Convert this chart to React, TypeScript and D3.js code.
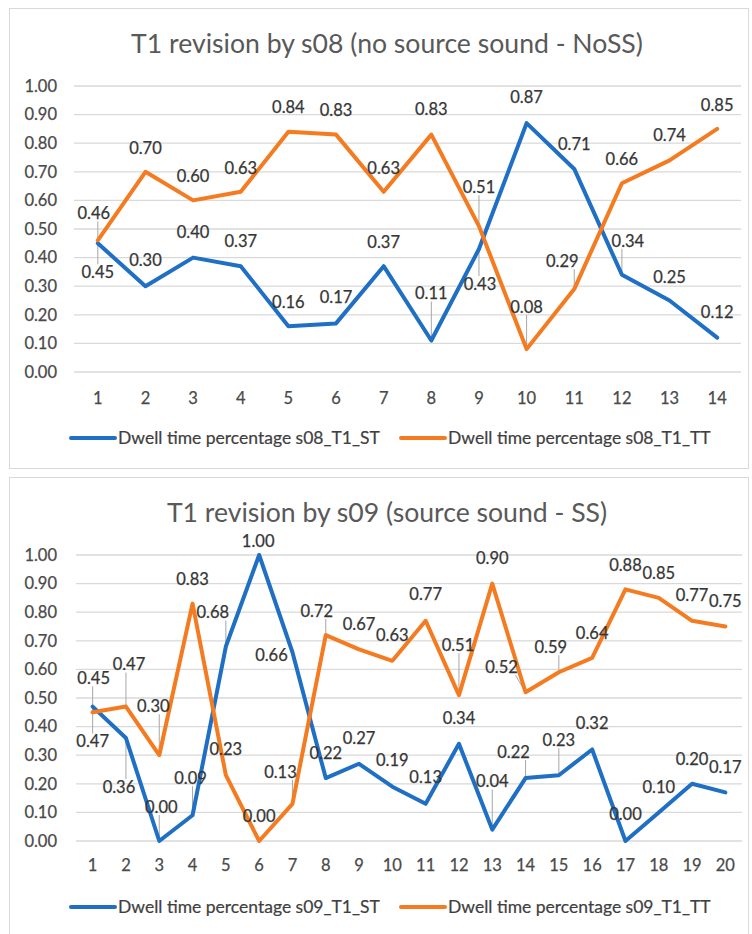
import React from "react";
import * as d3 from "d3";

// ---- data: chart 1 (s08, no source sound) ----
const s08Sessions = ["1", "2", "3", "4", "5", "6", "7", "8", "9", "10", "11", "12", "13", "14"];
const s08ST = [0.45, 0.30, 0.40, 0.37, 0.16, 0.17, 0.37, 0.11, 0.43, 0.87, 0.71, 0.34, 0.25, 0.12];
const s08TT = [0.46, 0.70, 0.60, 0.63, 0.84, 0.83, 0.63, 0.83, 0.51, 0.08, 0.29, 0.66, 0.74, 0.85];

// ---- data: chart 2 (s09, source sound) ----
const s09Sessions = ["1", "2", "3", "4", "5", "6", "7", "8", "9", "10", "11", "12", "13", "14", "15", "16", "17", "18", "19", "20"];
const s09ST = [0.47, 0.36, 0.00, 0.09, 0.68, 1.00, 0.66, 0.22, 0.27, 0.19, 0.13, 0.34, 0.04, 0.22, 0.23, 0.32, 0.00, 0.10, 0.20, 0.17];
const s09TT = [0.45, 0.47, 0.30, 0.83, 0.23, 0.00, 0.13, 0.72, 0.67, 0.63, 0.77, 0.51, 0.90, 0.52, 0.59, 0.64, 0.88, 0.85, 0.77, 0.75];

const yTicks = [0, 0.1, 0.2, 0.3, 0.4, 0.5, 0.6, 0.7, 0.8, 0.9, 1.0];

// ---- data-label placement (offset of label centre from its point, px; leader flag) ----
type LabelPos = [number, number, boolean?];
const A: LabelPos = [0, -24];
const s08STLabels: LabelPos[] = [
  [0, 29, true], [0, -26], [0, -25], [0, -25], [0, -24], [0, -26], [0, -24],
  [0, -47, true], [1, 35, true], [0, -26], [0, -25], [6, -34, true], [0, -23], [0, -25],
];
const s08TTLabels: LabelPos[] = [
  [-4, -27, true], A, A, A, [0, -25], A, A,
  [0, -25], [0, -39, true], [0, -42, true], [-12, -28, true], A, [0, -25], A,
];
const s09STLabels: LabelPos[] = [
  [0, 35, true], [-7, 49, true], [2, -34, true], [-2, -37, true], [-13, -34, true], [-1, -14], [-21, 3],
  [0, -25], [0, -26], [0, -26], [0, -27], [0, -26], [0, -48, true], [-12, -26, true],
  [0, -35, true], [0, -26], [0, -27], [0, -25], [0, -25], [0, -25],
];
const s09TTLabels: LabelPos[] = [
  [1, -34, true], [3, -42, true], [-6, -49, true], A, [0, -26], [0, -25], [-12, -32, true],
  [-9, -24, true], [0, -25], [0, -26], [0, -27], [-1, -50, true], [0, -25], [-24, -25, true],
  [-8, -25, true], [0, -25], A, [0, -25], [0, -26], [0, -25],
];

const BLUE = "#1f6fc4";
const ORANGE = "#f47b20";
const FONT = "Lato, 'Open Sans', sans-serif";

type Series = { name: string; values: number[]; color: string; labels: LabelPos[] };

type PanelProps = {
  box: { x: number; y: number; w: number; h: number };
  title: string;
  plot: { x0: number; x1: number; yTop: number; yBottom: number };
  xLabelY: number;
  legendY: number;
  categories: string[];
  series: Series[];
};

function Panel({ box, title, plot, xLabelY, legendY, categories, series }: PanelProps) {
  const x = d3.scalePoint<string>().domain(categories).range([plot.x0, plot.x1]).padding(0.5);
  const y = d3.scaleLinear().domain([0, 1]).range([plot.yBottom, plot.yTop]);
  const fmt = d3.format(".2f");
  const line = d3
    .line<number>()
    .x((_, i) => x(categories[i]) as number)
    .y((d) => y(d));

  const legendX = [71, 401];
  return (
    <g>
      <rect x={box.x + 0.5} y={box.y + 0.5} width={box.w} height={box.h} fill="#fff" stroke="#d9d9d9" strokeWidth={1} />
      <text x={387} y={box.y + 45} textAnchor="middle" fontFamily={FONT} fontSize={26.6} fill="#595959">
        {title}
      </text>
      {yTicks.map((t) => (
        <g key={t}>
          <line x1={plot.x0} x2={plot.x1} y1={y(t)} y2={y(t)} stroke="#d9d9d9" strokeWidth={1.3} />
          <text x={57} y={y(t)} dy="0.35em" textAnchor="end" fontFamily={FONT} fontSize={16.5} fill="#4a4a4a" stroke="#4a4a4a" strokeWidth={0.25}>
            {fmt(t)}
          </text>
        </g>
      ))}
      {categories.map((c) => (
        <text key={c} x={x(c)} y={xLabelY} dy="0.35em" textAnchor="middle" fontFamily={FONT} fontSize={16.5} fill="#4a4a4a" stroke="#4a4a4a" strokeWidth={0.25}>
          {c}
        </text>
      ))}
      {/* leader lines from moved labels to their points */}
      {series.map((s) =>
        s.values.map((v, i) => {
          const [dx, dy, leader] = s.labels[i];
          if (!leader) return null;
          const px = x(categories[i]) as number;
          const py = y(v);
          const cx = px + dx;
          const cy = py + dy;
          const ex = Math.max(cx - 14, Math.min(cx + 14, px));
          const ey = Math.max(cy - 8, Math.min(cy + 8, py));
          return <line key={s.name + i} x1={ex} y1={ey} x2={px} y2={py} stroke="#a6a6a6" strokeWidth={1} />;
        })
      )}
      {series.map((s) => (
        <path key={s.name} d={line(s.values) ?? ""} fill="none" stroke={s.color} strokeWidth={4} strokeLinejoin="round" strokeLinecap="round" />
      ))}
      {series.map((s) =>
        s.values.map((v, i) => {
          const [dx, dy] = s.labels[i];
          return (
            <text
              key={s.name + "l" + i}
              x={(x(categories[i]) as number) + dx}
              y={y(v) + dy}
              dy="0.35em"
              textAnchor="middle"
              fontFamily={FONT}
              fontSize={16.5}
              fill="#363636"
              stroke="#363636"
              strokeWidth={0.25}
            >
              {fmt(v)}
            </text>
          );
        })
      )}
      {series.map((s, k) => (
        <g key={s.name + "leg"}>
          <line x1={legendX[k]} x2={legendX[k] + 44} y1={legendY} y2={legendY} stroke={s.color} strokeWidth={4} strokeLinecap="round" />
          <text x={legendX[k] + 47} y={legendY} dy="0.35em" fontFamily={FONT} fontSize={17.5} fill="#404040" stroke="#404040" strokeWidth={0.2}>
            {s.name}
          </text>
        </g>
      ))}
    </g>
  );
}

export default function App() {
  return (
    <svg width={752} height={934} style={{ position: "absolute", left: 0, top: 0, background: "#fff" }}>
      <Panel
        box={{ x: 9, y: 8, w: 739, h: 460 }}
        title="T1 revision by s08 (no source sound - NoSS)"
        plot={{ x0: 74, x1: 741, yTop: 86, yBottom: 372 }}
        xLabelY={398}
        legendY={438}
        categories={s08Sessions}
        series={[
          { name: "Dwell time percentage s08_T1_ST", values: s08ST, color: BLUE, labels: s08STLabels },
          { name: "Dwell time percentage s08_T1_TT", values: s08TT, color: ORANGE, labels: s08TTLabels },
        ]}
      />
      <Panel
        box={{ x: 9, y: 477, w: 739, h: 470 }}
        title="T1 revision by s09 (source sound - SS)"
        plot={{ x0: 76, x1: 742, yTop: 555, yBottom: 841 }}
        xLabelY={865}
        legendY={907}
        categories={s09Sessions}
        series={[
          { name: "Dwell time percentage s09_T1_ST", values: s09ST, color: BLUE, labels: s09STLabels },
          { name: "Dwell time percentage s09_T1_TT", values: s09TT, color: ORANGE, labels: s09TTLabels },
        ]}
      />
    </svg>
  );
}
